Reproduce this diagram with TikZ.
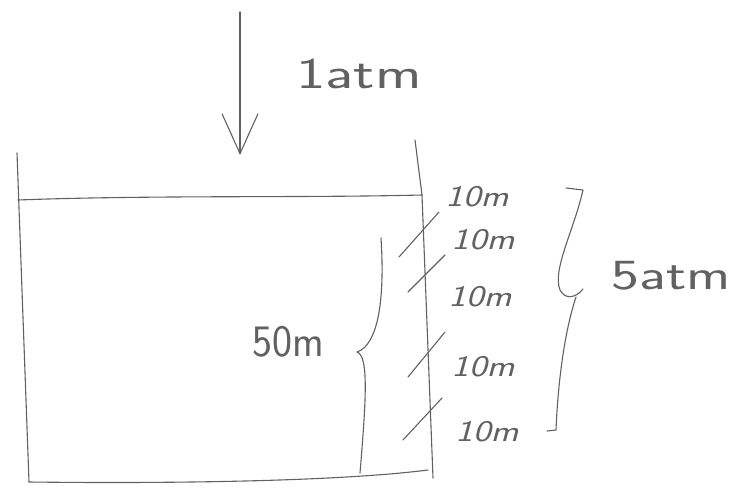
\documentclass[tikz,border=0pt]{standalone}
\usetikzlibrary{arrows.meta}

\begin{document}
\begin{tikzpicture}[x=1pt,y=-1pt,line width=1.1pt,line cap=round,line join=round,
    pencil/.style={draw=black!62},
    hand/.style={text=black!62,inner sep=0pt,font=\sffamily}]
    \useasboundingbox (0,0) rectangle (735,487);

    % Define the corners of the tank
    \coordinate (TL) at (17,153);
    \coordinate (BL) at (29,482);
    \coordinate (BR) at (428,470);
    \coordinate (TR) at (415,140);
    \coordinate (SL) at (18,200);
    \coordinate (SR) at (422,195);
    \coordinate (WB) at (433,478);

    % Define the ends of the arrow
    \coordinate (P) at (240,12);
    \coordinate (Q) at (240,155);

    % Draw the tank and the water surface
    \draw[pencil] (TL) -- (BL);
    \draw[pencil] (BL) .. controls (200,484) and (350,480) .. (BR);
    \draw[pencil] (TR) -- (SR) -- (WB);
    \draw[pencil] (SL) .. controls (150,195) and (300,198) .. (SR);

    % Draw the pressure arrow
    \draw[pencil,-{Straight Barb[length=40pt,width=36pt,line width=1.1pt]}] (P) -- (Q);

    % Draw the marks on the right wall
    \coordinate (M1a) at (399,257); \coordinate (M1b) at (439,212);
    \coordinate (M2a) at (408,292); \coordinate (M2b) at (445,255);
    \coordinate (M3a) at (408,377); \coordinate (M3b) at (445,332);
    \coordinate (M4a) at (403,440); \coordinate (M4b) at (442,398);
    \draw[pencil] (M1a) -- (M1b);
    \draw[pencil] (M2a) -- (M2b);
    \draw[pencil] (M3a) -- (M3b);
    \draw[pencil] (M4a) -- (M4b);

    % Draw the braces
    \coordinate (LB1) at (381,238);
    \coordinate (LB2) at (357,352);
    \coordinate (LB3) at (360,473);
    \draw[pencil] (LB1) .. controls (385,300) and (378,345) .. (LB2)
        .. controls (369,356) and (366,400) .. (LB3);
    \coordinate (RB0) at (566,188);
    \coordinate (RB1) at (583,190);
    \coordinate (RB2) at (583,289);
    \coordinate (RB3) at (576,297);
    \coordinate (RB4) at (556,430);
    \coordinate (RB5) at (547,431);
    \draw[pencil] (RB0) -- (RB1) .. controls (574,230) and (552,270) .. (560,290)
        .. controls (565,300) and (576,298) .. (RB2);
    \draw[pencil] (RB3) .. controls (565,330) and (558,380) .. (RB4) -- (RB5);

    % Place the labels
    \node[hand,font=\sffamily\fontsize{44}{44}\selectfont,xscale=1.42] (p0) at (359,74) {1atm};
    \node[hand,font=\sffamily\fontsize{43}{43}\selectfont,xscale=1.38] (p5) at (671,276) {5atm};
    \node[hand,font=\sffamily\fontsize{50}{50}\selectfont,xscale=0.85,yscale=0.9] (h) at (288,342) {50m};
    \node[hand,font=\sffamily\itshape\fontsize{30}{30}\selectfont,xscale=1.25] (d1) at (477,197) {10m};
    \node[hand,font=\sffamily\itshape\fontsize{30}{30}\selectfont,xscale=1.25] (d2) at (483,240) {10m};
    \node[hand,font=\sffamily\itshape\fontsize{30}{30}\selectfont,xscale=1.25] (d3) at (480,297) {10m};
    \node[hand,font=\sffamily\itshape\fontsize{30}{30}\selectfont,xscale=1.25] (d4) at (483,367) {10m};
    \node[hand,font=\sffamily\itshape\fontsize{30}{30}\selectfont,xscale=1.25] (d5) at (487,432) {10m};

\end{tikzpicture}
\end{document}
